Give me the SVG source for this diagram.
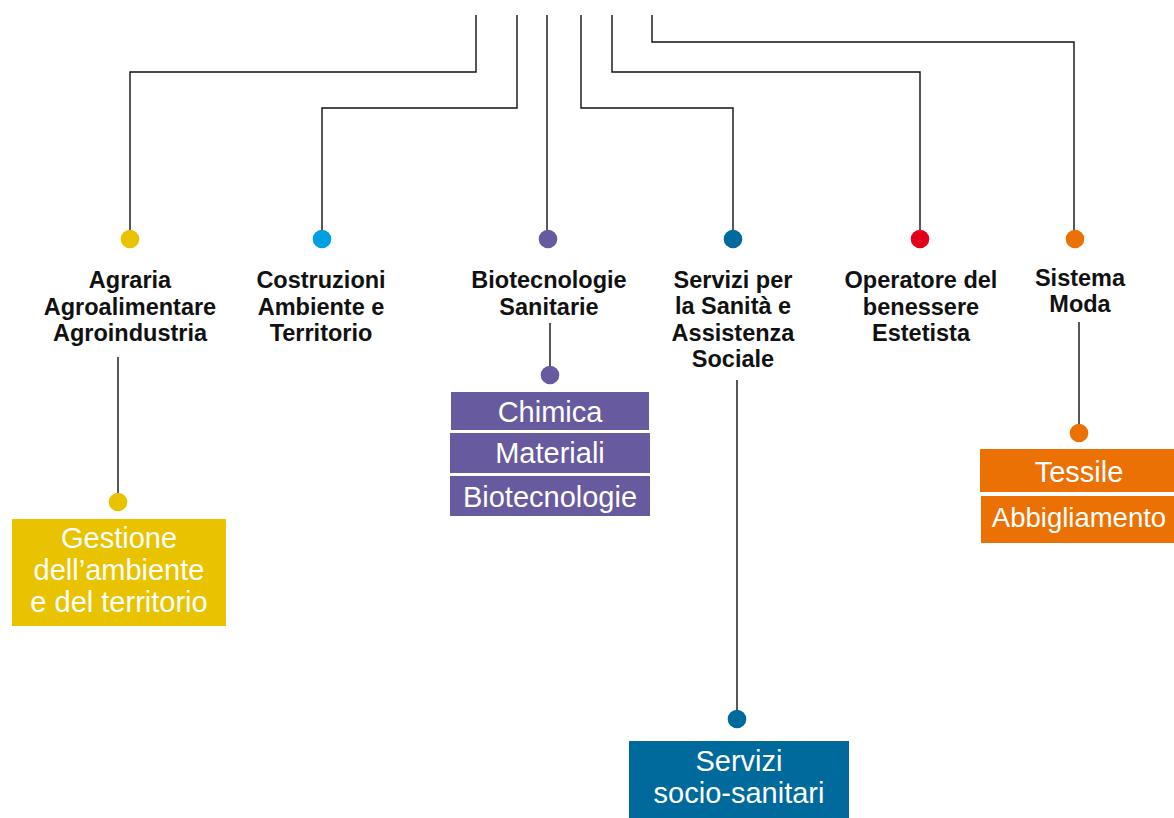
<svg xmlns="http://www.w3.org/2000/svg" width="1174" height="818" viewBox="0 0 1174 818">
<style>
.ln{fill:none;stroke:#111;stroke-width:1.4}
.lbl{font-family:"Liberation Sans",Arial,sans-serif;font-weight:bold;font-size:23.5px;fill:#111;text-anchor:middle}
.bx{font-family:"Liberation Sans",Arial,sans-serif;font-size:29px;fill:#fff;text-anchor:middle}
</style>
<rect width="1174" height="818" fill="#fff"/>
<g id="connectors" class="ln">
<path d="M476 15V72H130V230"/>
<path d="M517 15V108H322V230"/>
<path d="M547 15V230"/>
<path d="M581 15V108H733V230"/>
<path d="M612 15V72H920V230"/>
<path d="M652 15V42H1074V230"/>
<path d="M118 357V493"/>
<path d="M550 323V367"/>
<path d="M737 380V710"/>
<path d="M1079 322V424"/>
</g>
<g id="agraria">
<circle cx="130" cy="239" r="9.3" fill="#E9C300"/>
<text class="lbl" x="130" y="288">Agraria</text>
<text class="lbl" x="130" y="315">Agroalimentare</text>
<text class="lbl" x="130" y="341">Agroindustria</text>
</g>
<g id="costruzioni">
<circle cx="322" cy="239" r="9.3" fill="#009FE3"/>
<text class="lbl" x="321" y="288">Costruzioni</text>
<text class="lbl" x="321" y="315">Ambiente e</text>
<text class="lbl" x="321" y="341">Territorio</text>
</g>
<g id="biotecnologie">
<circle cx="548" cy="239" r="9.3" fill="#675A9E"/>
<text class="lbl" x="549" y="288">Biotecnologie</text>
<text class="lbl" x="549" y="315">Sanitarie</text>
</g>
<g id="servizi">
<circle cx="733" cy="239" r="9.3" fill="#006A9C"/>
<text class="lbl" x="733" y="288">Servizi per</text>
<text class="lbl" x="733" y="314">la Sanità e</text>
<text class="lbl" x="733" y="341">Assistenza</text>
<text class="lbl" x="733" y="367">Sociale</text>
</g>
<g id="operatore">
<circle cx="920" cy="239" r="9.3" fill="#E3001B"/>
<text class="lbl" x="921" y="288">Operatore del</text>
<text class="lbl" x="921" y="315">benessere</text>
<text class="lbl" x="921" y="341">Estetista</text>
</g>
<g id="sistema-moda">
<circle cx="1075" cy="239" r="9.3" fill="#EC7105"/>
<text class="lbl" x="1080" y="286">Sistema</text>
<text class="lbl" x="1080" y="312">Moda</text>
</g>
<g id="gestione">
<circle cx="118" cy="502" r="9.3" fill="#E9C300"/>
<rect x="12" y="519" width="214" height="107" fill="#E9C300"/>
<text class="bx" x="119" y="548">Gestione</text>
<text class="bx" x="119" y="580">dell’ambiente</text>
<text class="bx" x="119" y="612">e del territorio</text>
</g>
<g id="chimica-group">
<circle cx="550" cy="375" r="9.3" fill="#675A9E"/>
<rect x="451" y="392" width="198" height="38" fill="#675A9E"/>
<rect x="450" y="433" width="200" height="40" fill="#675A9E"/>
<rect x="450" y="476" width="200" height="40" fill="#675A9E"/>
<text class="bx" x="550" y="421.5">Chimica</text>
<text class="bx" x="550" y="463">Materiali</text>
<text class="bx" x="550" y="506.5">Biotecnologie</text>
</g>
<g id="socio-sanitari">
<circle cx="737" cy="719" r="9.3" fill="#006A9C"/>
<rect x="629" y="741" width="220" height="77" fill="#006A9C"/>
<text class="bx" x="739" y="771">Servizi</text>
<text class="bx" x="739" y="803">socio-sanitari</text>
</g>
<g id="moda-group">
<circle cx="1079" cy="433" r="9.3" fill="#EC7105"/>
<rect x="980" y="449" width="194" height="43" fill="#EC7105"/>
<rect x="981" y="496" width="193" height="47" fill="#EC7105"/>
<text class="bx" x="1079" y="481.5">Tessile</text>
<text class="bx" x="1079" y="527" style="font-size:27.5px">Abbigliamento</text>
</g>
</svg>
